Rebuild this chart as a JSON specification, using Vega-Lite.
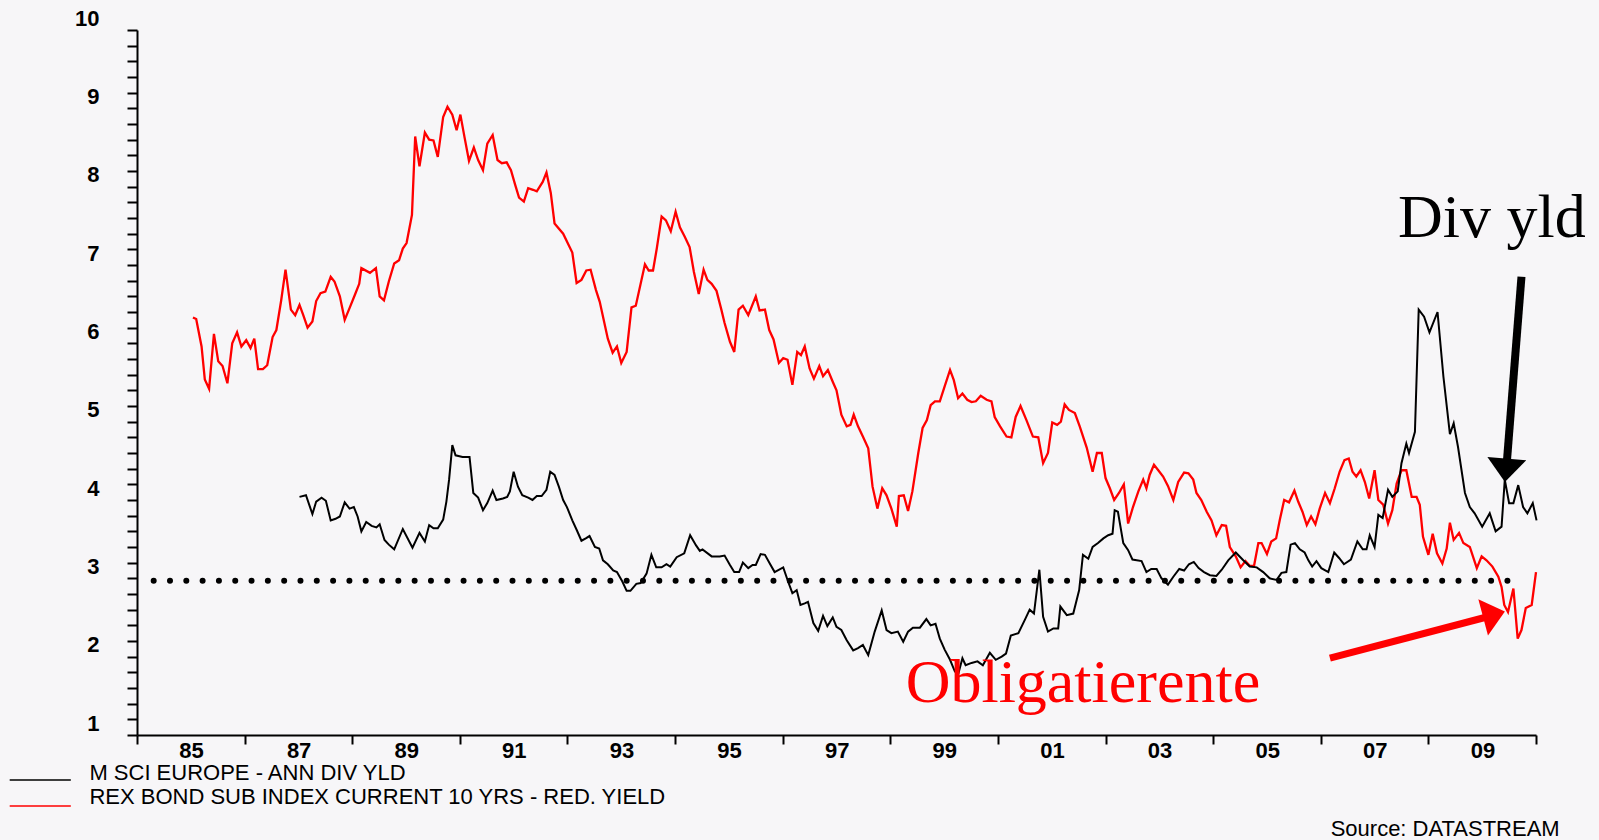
{
  "$schema": "https://vega.github.io/schema/vega-lite/v6.json",
  "width": 1399,
  "height": 705,
  "autosize": {"type": "none"},
  "padding": {"left": 137, "top": 30, "right": 63, "bottom": 105},
  "background": "#f7f6f8",
  "config": {"view": {"stroke": null}},
  "datasets": {
    "bond": [
      {"year":1986.04,"value":6.33},{"year":1986.10,"value":6.31},{"year":1986.20,"value":5.96},{"year":1986.26,"value":5.54},{"year":1986.34,"value":5.42},{"year":1986.43,"value":6.12},{"year":1986.51,"value":5.77},{"year":1986.59,"value":5.71},{"year":1986.68,"value":5.49},{"year":1986.77,"value":6.00},{"year":1986.86,"value":6.14},{"year":1986.94,"value":5.96},{"year":1987.03,"value":6.04},{"year":1987.11,"value":5.94},{"year":1987.18,"value":6.06},{"year":1987.25,"value":5.67},{"year":1987.34,"value":5.67},{"year":1987.42,"value":5.72},{"year":1987.52,"value":6.08},{"year":1987.59,"value":6.17},{"year":1987.68,"value":6.55},{"year":1987.76,"value":6.94},{"year":1987.86,"value":6.43},{"year":1987.94,"value":6.36},{"year":1988.02,"value":6.49},{"year":1988.09,"value":6.36},{"year":1988.17,"value":6.20},{"year":1988.26,"value":6.28},{"year":1988.33,"value":6.54},{"year":1988.41,"value":6.64},{"year":1988.50,"value":6.66},{"year":1988.60,"value":6.85},{"year":1988.67,"value":6.79},{"year":1988.77,"value":6.60},{"year":1988.86,"value":6.30},{"year":1988.95,"value":6.45},{"year":1989.05,"value":6.62},{"year":1989.13,"value":6.76},{"year":1989.17,"value":6.96},{"year":1989.33,"value":6.90},{"year":1989.44,"value":6.96},{"year":1989.51,"value":6.60},{"year":1989.59,"value":6.55},{"year":1989.68,"value":6.79},{"year":1989.78,"value":7.02},{"year":1989.87,"value":7.06},{"year":1989.94,"value":7.21},{"year":1990.01,"value":7.28},{"year":1990.11,"value":7.64},{"year":1990.17,"value":8.64},{"year":1990.25,"value":8.26},{"year":1990.35,"value":8.69},{"year":1990.43,"value":8.60},{"year":1990.51,"value":8.59},{"year":1990.59,"value":8.38},{"year":1990.69,"value":8.89},{"year":1990.77,"value":9.02},{"year":1990.86,"value":8.92},{"year":1990.94,"value":8.72},{"year":1991.01,"value":8.92},{"year":1991.09,"value":8.62},{"year":1991.17,"value":8.33},{"year":1991.26,"value":8.50},{"year":1991.34,"value":8.34},{"year":1991.43,"value":8.21},{"year":1991.51,"value":8.55},{"year":1991.61,"value":8.66},{"year":1991.70,"value":8.34},{"year":1991.78,"value":8.30},{"year":1991.87,"value":8.31},{"year":1991.95,"value":8.21},{"year":1992.03,"value":8.02},{"year":1992.10,"value":7.86},{"year":1992.19,"value":7.81},{"year":1992.27,"value":7.98},{"year":1992.36,"value":7.96},{"year":1992.43,"value":7.94},{"year":1992.54,"value":8.06},{"year":1992.61,"value":8.18},{"year":1992.69,"value":7.92},{"year":1992.76,"value":7.53},{"year":1992.92,"value":7.40},{"year":1993.09,"value":7.16},{"year":1993.17,"value":6.77},{"year":1993.26,"value":6.81},{"year":1993.35,"value":6.93},{"year":1993.43,"value":6.94},{"year":1993.53,"value":6.68},{"year":1993.60,"value":6.53},{"year":1993.75,"value":6.06},{"year":1993.84,"value":5.88},{"year":1993.92,"value":5.96},{"year":1994.00,"value":5.75},{"year":1994.10,"value":5.89},{"year":1994.19,"value":6.46},{"year":1994.27,"value":6.48},{"year":1994.44,"value":7.01},{"year":1994.51,"value":6.93},{"year":1994.59,"value":6.93},{"year":1994.66,"value":7.21},{"year":1994.75,"value":7.62},{"year":1994.83,"value":7.57},{"year":1994.92,"value":7.43},{"year":1995.01,"value":7.68},{"year":1995.09,"value":7.48},{"year":1995.18,"value":7.36},{"year":1995.27,"value":7.23},{"year":1995.35,"value":6.91},{"year":1995.44,"value":6.63},{"year":1995.53,"value":6.94},{"year":1995.60,"value":6.81},{"year":1995.68,"value":6.76},{"year":1995.77,"value":6.67},{"year":1995.86,"value":6.43},{"year":1995.92,"value":6.26},{"year":1996.02,"value":6.02},{"year":1996.10,"value":5.89},{"year":1996.18,"value":6.43},{"year":1996.26,"value":6.48},{"year":1996.36,"value":6.36},{"year":1996.50,"value":6.60},{"year":1996.57,"value":6.42},{"year":1996.67,"value":6.43},{"year":1996.75,"value":6.17},{"year":1996.83,"value":6.05},{"year":1996.93,"value":5.75},{"year":1997.01,"value":5.81},{"year":1997.09,"value":5.79},{"year":1997.18,"value":5.47},{"year":1997.27,"value":5.89},{"year":1997.34,"value":5.85},{"year":1997.41,"value":5.96},{"year":1997.50,"value":5.68},{"year":1997.58,"value":5.55},{"year":1997.68,"value":5.71},{"year":1997.75,"value":5.58},{"year":1997.84,"value":5.66},{"year":1997.93,"value":5.51},{"year":1998.00,"value":5.40},{"year":1998.09,"value":5.09},{"year":1998.19,"value":4.94},{"year":1998.26,"value":4.96},{"year":1998.32,"value":5.09},{"year":1998.40,"value":4.94},{"year":1998.49,"value":4.81},{"year":1998.59,"value":4.66},{"year":1998.67,"value":4.17},{"year":1998.76,"value":3.89},{"year":1998.85,"value":4.15},{"year":1998.93,"value":4.06},{"year":1999.02,"value":3.89},{"year":1999.12,"value":3.66},{"year":1999.16,"value":4.05},{"year":1999.25,"value":4.06},{"year":1999.33,"value":3.86},{"year":1999.41,"value":4.11},{"year":1999.52,"value":4.60},{"year":1999.60,"value":4.92},{"year":1999.68,"value":5.02},{"year":1999.75,"value":5.21},{"year":1999.83,"value":5.26},{"year":1999.92,"value":5.26},{"year":2000.01,"value":5.45},{"year":2000.11,"value":5.66},{"year":2000.18,"value":5.53},{"year":2000.26,"value":5.30},{"year":2000.34,"value":5.36},{"year":2000.43,"value":5.28},{"year":2000.51,"value":5.25},{"year":2000.59,"value":5.26},{"year":2000.68,"value":5.33},{"year":2000.79,"value":5.28},{"year":2000.88,"value":5.26},{"year":2000.94,"value":5.06},{"year":2001.04,"value":4.94},{"year":2001.16,"value":4.81},{"year":2001.25,"value":4.80},{"year":2001.33,"value":5.06},{"year":2001.42,"value":5.20},{"year":2001.53,"value":5.02},{"year":2001.65,"value":4.81},{"year":2001.75,"value":4.80},{"year":2001.84,"value":4.47},{"year":2001.93,"value":4.60},{"year":2002.01,"value":4.99},{"year":2002.10,"value":4.96},{"year":2002.17,"value":5.00},{"year":2002.24,"value":5.22},{"year":2002.32,"value":5.15},{"year":2002.43,"value":5.11},{"year":2002.52,"value":4.94},{"year":2002.65,"value":4.67},{"year":2002.76,"value":4.36},{"year":2002.84,"value":4.60},{"year":2002.93,"value":4.60},{"year":2003.00,"value":4.28},{"year":2003.08,"value":4.15},{"year":2003.16,"value":4.00},{"year":2003.25,"value":4.09},{"year":2003.34,"value":4.20},{"year":2003.42,"value":3.70},{"year":2003.51,"value":3.91},{"year":2003.61,"value":4.11},{"year":2003.70,"value":4.26},{"year":2003.76,"value":4.15},{"year":2003.82,"value":4.32},{"year":2003.90,"value":4.45},{"year":2003.98,"value":4.38},{"year":2004.07,"value":4.30},{"year":2004.16,"value":4.18},{"year":2004.26,"value":4.00},{"year":2004.35,"value":4.23},{"year":2004.46,"value":4.35},{"year":2004.54,"value":4.34},{"year":2004.63,"value":4.26},{"year":2004.69,"value":4.09},{"year":2004.78,"value":4.00},{"year":2004.88,"value":3.85},{"year":2004.97,"value":3.74},{"year":2005.06,"value":3.55},{"year":2005.16,"value":3.68},{"year":2005.24,"value":3.67},{"year":2005.31,"value":3.40},{"year":2005.42,"value":3.28},{"year":2005.51,"value":3.14},{"year":2005.60,"value":3.22},{"year":2005.68,"value":3.16},{"year":2005.76,"value":3.16},{"year":2005.84,"value":3.45},{"year":2005.90,"value":3.45},{"year":2006.00,"value":3.31},{"year":2006.08,"value":3.47},{"year":2006.17,"value":3.51},{"year":2006.24,"value":3.75},{"year":2006.32,"value":4.00},{"year":2006.41,"value":3.97},{"year":2006.51,"value":4.12},{"year":2006.58,"value":3.98},{"year":2006.66,"value":3.85},{"year":2006.74,"value":3.68},{"year":2006.82,"value":3.79},{"year":2006.90,"value":3.69},{"year":2006.98,"value":3.89},{"year":2007.08,"value":4.09},{"year":2007.17,"value":3.96},{"year":2007.26,"value":4.15},{"year":2007.35,"value":4.36},{"year":2007.44,"value":4.51},{"year":2007.52,"value":4.53},{"year":2007.59,"value":4.36},{"year":2007.66,"value":4.30},{"year":2007.74,"value":4.38},{"year":2007.82,"value":4.23},{"year":2007.90,"value":4.02},{"year":2008.00,"value":4.38},{"year":2008.07,"value":4.00},{"year":2008.16,"value":3.94},{"year":2008.25,"value":3.70},{"year":2008.33,"value":3.87},{"year":2008.41,"value":4.21},{"year":2008.50,"value":4.38},{"year":2008.59,"value":4.38},{"year":2008.69,"value":4.04},{"year":2008.78,"value":4.04},{"year":2008.84,"value":3.94},{"year":2008.90,"value":3.53},{"year":2009.00,"value":3.30},{"year":2009.08,"value":3.57},{"year":2009.16,"value":3.32},{"year":2009.26,"value":3.19},{"year":2009.34,"value":3.38},{"year":2009.40,"value":3.71},{"year":2009.47,"value":3.49},{"year":2009.57,"value":3.58},{"year":2009.65,"value":3.45},{"year":2009.77,"value":3.40},{"year":2009.90,"value":3.13},{"year":2009.99,"value":3.28},{"year":2010.08,"value":3.23},{"year":2010.19,"value":3.15},{"year":2010.30,"value":3.02},{"year":2010.36,"value":2.89},{"year":2010.41,"value":2.66},{"year":2010.48,"value":2.57},{"year":2010.58,"value":2.87},{"year":2010.66,"value":2.23},{"year":2010.73,"value":2.34},{"year":2010.81,"value":2.62},{"year":2010.92,"value":2.66},{"year":2011.00,"value":3.08}
    ],
    "div": [
      {"year":1988.02,"value":4.04},{"year":1988.14,"value":4.06},{"year":1988.26,"value":3.82},{"year":1988.33,"value":3.98},{"year":1988.43,"value":4.03},{"year":1988.51,"value":3.99},{"year":1988.60,"value":3.74},{"year":1988.69,"value":3.76},{"year":1988.77,"value":3.79},{"year":1988.86,"value":3.97},{"year":1988.95,"value":3.89},{"year":1989.03,"value":3.91},{"year":1989.10,"value":3.79},{"year":1989.17,"value":3.60},{"year":1989.26,"value":3.72},{"year":1989.36,"value":3.67},{"year":1989.45,"value":3.65},{"year":1989.51,"value":3.69},{"year":1989.60,"value":3.49},{"year":1989.68,"value":3.43},{"year":1989.78,"value":3.37},{"year":1989.94,"value":3.63},{"year":1990.12,"value":3.39},{"year":1990.25,"value":3.58},{"year":1990.35,"value":3.47},{"year":1990.43,"value":3.68},{"year":1990.51,"value":3.64},{"year":1990.59,"value":3.64},{"year":1990.69,"value":3.75},{"year":1990.75,"value":3.98},{"year":1990.80,"value":4.26},{"year":1990.86,"value":4.70},{"year":1990.92,"value":4.57},{"year":1991.05,"value":4.55},{"year":1991.18,"value":4.55},{"year":1991.25,"value":4.09},{"year":1991.34,"value":4.03},{"year":1991.43,"value":3.87},{"year":1991.51,"value":3.96},{"year":1991.61,"value":4.12},{"year":1991.68,"value":4.00},{"year":1991.80,"value":4.02},{"year":1991.88,"value":4.04},{"year":1991.93,"value":4.11},{"year":1992.00,"value":4.36},{"year":1992.08,"value":4.17},{"year":1992.16,"value":4.06},{"year":1992.27,"value":4.03},{"year":1992.35,"value":4.00},{"year":1992.43,"value":4.05},{"year":1992.52,"value":4.05},{"year":1992.61,"value":4.13},{"year":1992.68,"value":4.36},{"year":1992.76,"value":4.32},{"year":1992.84,"value":4.17},{"year":1992.92,"value":4.00},{"year":1992.99,"value":3.91},{"year":1993.09,"value":3.74},{"year":1993.17,"value":3.62},{"year":1993.26,"value":3.48},{"year":1993.34,"value":3.51},{"year":1993.41,"value":3.54},{"year":1993.51,"value":3.40},{"year":1993.59,"value":3.38},{"year":1993.66,"value":3.23},{"year":1993.75,"value":3.18},{"year":1993.85,"value":3.10},{"year":1993.92,"value":3.08},{"year":1994.02,"value":2.96},{"year":1994.10,"value":2.84},{"year":1994.17,"value":2.84},{"year":1994.28,"value":2.93},{"year":1994.36,"value":2.94},{"year":1994.47,"value":3.06},{"year":1994.56,"value":3.30},{"year":1994.65,"value":3.14},{"year":1994.75,"value":3.14},{"year":1994.84,"value":3.18},{"year":1994.91,"value":3.15},{"year":1995.03,"value":3.27},{"year":1995.17,"value":3.32},{"year":1995.28,"value":3.55},{"year":1995.39,"value":3.42},{"year":1995.46,"value":3.35},{"year":1995.51,"value":3.37},{"year":1995.68,"value":3.28},{"year":1995.83,"value":3.28},{"year":1995.92,"value":3.29},{"year":1996.02,"value":3.17},{"year":1996.10,"value":3.08},{"year":1996.19,"value":3.08},{"year":1996.26,"value":3.20},{"year":1996.36,"value":3.13},{"year":1996.44,"value":3.17},{"year":1996.50,"value":3.17},{"year":1996.59,"value":3.31},{"year":1996.67,"value":3.30},{"year":1996.76,"value":3.19},{"year":1996.85,"value":3.08},{"year":1997.01,"value":3.14},{"year":1997.10,"value":2.96},{"year":1997.18,"value":2.81},{"year":1997.26,"value":2.85},{"year":1997.33,"value":2.66},{"year":1997.41,"value":2.68},{"year":1997.47,"value":2.70},{"year":1997.57,"value":2.43},{"year":1997.66,"value":2.33},{"year":1997.75,"value":2.52},{"year":1997.83,"value":2.39},{"year":1997.93,"value":2.50},{"year":1998.00,"value":2.38},{"year":1998.09,"value":2.34},{"year":1998.19,"value":2.21},{"year":1998.31,"value":2.08},{"year":1998.40,"value":2.11},{"year":1998.49,"value":2.15},{"year":1998.59,"value":2.02},{"year":1998.71,"value":2.32},{"year":1998.84,"value":2.59},{"year":1998.93,"value":2.34},{"year":1999.02,"value":2.30},{"year":1999.14,"value":2.32},{"year":1999.24,"value":2.19},{"year":1999.33,"value":2.32},{"year":1999.42,"value":2.37},{"year":1999.55,"value":2.37},{"year":1999.67,"value":2.48},{"year":1999.75,"value":2.40},{"year":1999.84,"value":2.42},{"year":1999.92,"value":2.23},{"year":2000.01,"value":2.09},{"year":2000.11,"value":1.96},{"year":2000.20,"value":1.81},{"year":2000.26,"value":1.77},{"year":2000.34,"value":1.98},{"year":2000.40,"value":1.89},{"year":2000.51,"value":1.92},{"year":2000.62,"value":1.94},{"year":2000.72,"value":1.89},{"year":2000.85,"value":2.05},{"year":2000.96,"value":1.96},{"year":2001.07,"value":2.00},{"year":2001.15,"value":2.04},{"year":2001.24,"value":2.27},{"year":2001.38,"value":2.30},{"year":2001.50,"value":2.47},{"year":2001.59,"value":2.60},{"year":2001.67,"value":2.55},{"year":2001.77,"value":3.11},{"year":2001.84,"value":2.51},{"year":2001.93,"value":2.32},{"year":2002.03,"value":2.36},{"year":2002.12,"value":2.36},{"year":2002.16,"value":2.64},{"year":2002.28,"value":2.53},{"year":2002.40,"value":2.55},{"year":2002.51,"value":2.85},{"year":2002.58,"value":3.30},{"year":2002.68,"value":3.25},{"year":2002.76,"value":3.40},{"year":2002.86,"value":3.45},{"year":2002.96,"value":3.51},{"year":2003.05,"value":3.55},{"year":2003.13,"value":3.57},{"year":2003.17,"value":3.87},{"year":2003.23,"value":3.85},{"year":2003.33,"value":3.45},{"year":2003.42,"value":3.36},{"year":2003.50,"value":3.24},{"year":2003.67,"value":3.22},{"year":2003.76,"value":3.08},{"year":2003.85,"value":3.12},{"year":2003.95,"value":3.12},{"year":2004.04,"value":3.00},{"year":2004.10,"value":2.96},{"year":2004.16,"value":2.92},{"year":2004.26,"value":3.02},{"year":2004.37,"value":3.12},{"year":2004.46,"value":3.10},{"year":2004.55,"value":3.18},{"year":2004.64,"value":3.21},{"year":2004.73,"value":3.13},{"year":2004.83,"value":3.08},{"year":2004.94,"value":3.04},{"year":2005.06,"value":3.03},{"year":2005.16,"value":3.11},{"year":2005.28,"value":3.23},{"year":2005.42,"value":3.33},{"year":2005.56,"value":3.23},{"year":2005.68,"value":3.15},{"year":2005.81,"value":3.14},{"year":2005.93,"value":3.08},{"year":2006.05,"value":3.00},{"year":2006.18,"value":2.98},{"year":2006.27,"value":3.07},{"year":2006.36,"value":3.08},{"year":2006.44,"value":3.43},{"year":2006.52,"value":3.45},{"year":2006.61,"value":3.37},{"year":2006.70,"value":3.33},{"year":2006.77,"value":3.23},{"year":2006.84,"value":3.15},{"year":2006.92,"value":3.22},{"year":2007.01,"value":3.13},{"year":2007.14,"value":3.08},{"year":2007.25,"value":3.33},{"year":2007.34,"value":3.26},{"year":2007.43,"value":3.18},{"year":2007.56,"value":3.24},{"year":2007.68,"value":3.47},{"year":2007.78,"value":3.37},{"year":2007.85,"value":3.37},{"year":2007.91,"value":3.55},{"year":2008.00,"value":3.40},{"year":2008.07,"value":3.81},{"year":2008.15,"value":3.77},{"year":2008.25,"value":4.13},{"year":2008.33,"value":4.04},{"year":2008.43,"value":4.11},{"year":2008.50,"value":4.47},{"year":2008.59,"value":4.72},{"year":2008.64,"value":4.60},{"year":2008.75,"value":4.87},{"year":2008.82,"value":6.43},{"year":2008.92,"value":6.34},{"year":2009.02,"value":6.14},{"year":2009.17,"value":6.40},{"year":2009.28,"value":5.57},{"year":2009.40,"value":4.84},{"year":2009.47,"value":4.98},{"year":2009.55,"value":4.68},{"year":2009.68,"value":4.09},{"year":2009.77,"value":3.91},{"year":2009.86,"value":3.83},{"year":2010.00,"value":3.66},{"year":2010.14,"value":3.83},{"year":2010.25,"value":3.60},{"year":2010.36,"value":3.66},{"year":2010.42,"value":4.26},{"year":2010.50,"value":3.96},{"year":2010.58,"value":3.96},{"year":2010.67,"value":4.19},{"year":2010.76,"value":3.91},{"year":2010.84,"value":3.83},{"year":2010.94,"value":3.96},{"year":2011.01,"value":3.74}
    ]
  },
  "encoding": {
    "x": {
      "field": "year", "type": "quantitative",
      "scale": {"domain": [1985, 2011], "nice": false, "zero": false},
      "axis": {
        "title": null, "grid": false,
        "values": [1985,1987,1989,1991,1993,1995,1997,1999,2001,2003,2005,2007,2009,2011],
        "labelExpr": "datum.value >= 2011 ? '' : ((datum.value % 100) < 10 ? '0' : '') + (datum.value % 100)",
        "labelOffset": 54, "labelFlush": false, "labelOverlap": false, "labelBound": false,
        "labelFont": "Liberation Sans", "labelFontSize": 22, "labelFontWeight": "bold", "labelColor": "#000000",
        "labelPadding": -4,
        "tickSize": 9, "tickWidth": 2, "tickColor": "#000000",
        "domainColor": "#000000", "domainWidth": 2
      }
    },
    "y": {
      "field": "value", "type": "quantitative",
      "scale": {"domain": [1, 10], "nice": false, "zero": false},
      "axis": {
        "title": null, "grid": false,
        "values": [1,1.2,1.4,1.6,1.8,2,2.2,2.4,2.6,2.8,3,3.2,3.4,3.6,3.8,4,4.2,4.4,4.6,4.8,5,5.2,5.4,5.6,5.8,6,6.2,6.4,6.6,6.8,7,7.2,7.4,7.6,7.8,8,8.2,8.4,8.6,8.8,9,9.2,9.4,9.6,9.8,10],
        "labelExpr": "abs(datum.value - round(datum.value)) < 0.01 ? '' + round(datum.value) : ''",
        "labelOffset": -12, "labelBaseline": "middle", "labelFlush": false, "labelOverlap": false, "labelBound": false,
        "labelFont": "Liberation Sans", "labelFontSize": 22, "labelFontWeight": "bold", "labelColor": "#000000",
        "labelPadding": 28,
        "tickSize": 10, "tickWidth": 2, "tickColor": "#000000",
        "domainColor": "#000000", "domainWidth": 2
      }
    }
  },
  "layer": [
    {"data": {"name": "bond"}, "mark": {"type": "line", "color": "#ff0000", "strokeWidth": 2.3, "clip": false}},
    {"data": {"name": "div"}, "mark": {"type": "line", "color": "#000000", "strokeWidth": 2, "clip": false}},
    {
      "data": {"values": [{"year": 1985.31, "year2": 2010.73, "value": 2.97}]},
      "mark": {"type": "rule", "color": "#000000", "strokeWidth": 6, "strokeDash": [0.01, 16.3], "strokeCap": "round"},
      "encoding": {"x2": {"field": "year2"}}
    },
    {
      "data": {"values": [{"year": 2010.73, "value": 6.85, "year2": 2010.46, "value2": 4.5}]},
      "mark": {"type": "rule", "color": "#000000", "strokeWidth": 8, "strokeCap": "butt"},
      "encoding": {"x2": {"field": "year2"}, "y2": {"field": "value2"}}
    },
    {
      "data": {"values": [{"year": 2010.44, "value": 4.38}]},
      "mark": {"type": "point", "shape": "M-1,-0.6L1,-0.6L0,0.6Z", "filled": true, "color": "#000000", "opacity": 1, "size": 1521, "angle": 4.7}
    },
    {
      "data": {"values": [{"year": 2007.17, "value": 1.98, "year2": 2010.05, "value2": 2.5}]},
      "mark": {"type": "rule", "color": "#ff0000", "strokeWidth": 7, "strokeCap": "butt"},
      "encoding": {"x2": {"field": "year2"}, "y2": {"field": "value2"}}
    },
    {
      "data": {"values": [{"year": 2010.22, "value": 2.54}]},
      "mark": {"type": "point", "shape": "M-1,-0.6L1,-0.6L0,0.6Z", "filled": true, "color": "#ff0000", "opacity": 1, "size": 1406, "angle": -104.9}
    },
    {
      "data": {"values": [{"year": 2010.18, "value": 7.36, "label": "Div yld"}]},
      "mark": {"type": "text", "font": "Liberation Serif", "fontSize": 62, "color": "#000000", "align": "center", "baseline": "alphabetic"},
      "encoding": {"text": {"field": "label"}}
    },
    {
      "data": {"values": [{"year": 2002.58, "value": 1.42, "label": "Obligatierente"}]},
      "mark": {"type": "text", "font": "Liberation Serif", "fontSize": 62, "color": "#ff0000", "align": "center", "baseline": "alphabetic"},
      "encoding": {"text": {"field": "label"}}
    },
    {
      "data": {"values": [{"year": 1982.634, "year2": 1983.77, "value": 0.4255}]},
      "mark": {"type": "rule", "color": "#000000", "strokeWidth": 1.5},
      "encoding": {"x2": {"field": "year2"}}
    },
    {
      "data": {"values": [{"year": 1982.634, "year2": 1983.77, "value": 0.0936}]},
      "mark": {"type": "rule", "color": "#ff0000", "strokeWidth": 1.5},
      "encoding": {"x2": {"field": "year2"}}
    },
    {
      "data": {"values": [
        {"year": 1984.115, "value": 0.4255, "label": "M SCI EUROPE - ANN DIV YLD"},
        {"year": 1984.115, "value": 0.119, "label": "REX BOND SUB INDEX CURRENT 10 YRS - RED. YIELD"}
      ]},
      "mark": {"type": "text", "font": "Liberation Sans", "fontSize": 22, "color": "#000000", "align": "left", "baseline": "alphabetic"},
      "encoding": {"text": {"field": "label"}}
    },
    {
      "data": {"values": [{"year": 2011.44, "value": -0.289, "label": "Source: DATASTREAM"}]},
      "mark": {"type": "text", "font": "Liberation Sans", "fontSize": 22, "color": "#000000", "align": "right", "baseline": "alphabetic"},
      "encoding": {"text": {"field": "label"}}
    }
  ]
}
